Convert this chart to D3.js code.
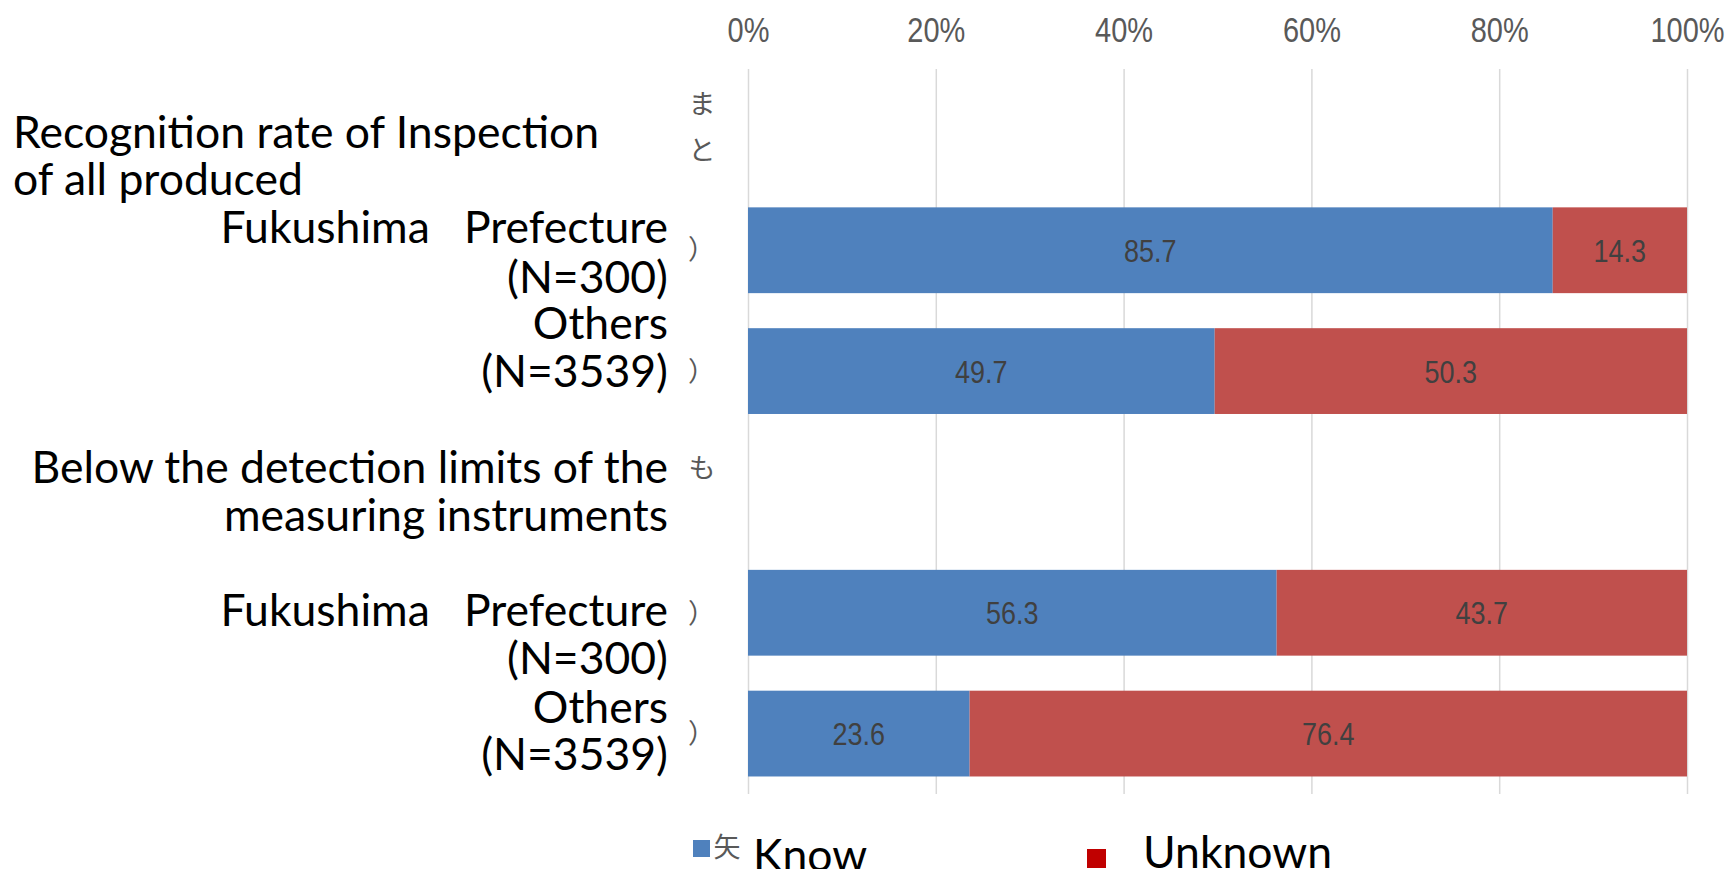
<!DOCTYPE html>
<html>
<head>
<meta charset="utf-8">
<script src="https://cdn.jsdelivr.net/npm/d3@7/dist/d3.min.js"></script>
<style>
  html, body { margin: 0; padding: 0; background: #ffffff; overflow: hidden; }
  svg { display: block; }
  .cat { font-family: Lato, "Open Sans", sans-serif; font-size: 44.5px; fill: #000000; white-space: pre; }
  .mark { font-family: "Noto Sans CJK JP", sans-serif; font-size: 27px; fill: #595959; }
  .tick text { font-family: "Liberation Sans Narrow", "Arial Narrow", sans-serif; font-size: 29px; fill: #595959; }
  .val { font-family: "Liberation Sans Narrow", "Arial Narrow", sans-serif; font-size: 27px; fill: #404040; }
  .leg { font-family: Lato, "Open Sans", sans-serif; font-size: 44.5px; fill: #000000; }
</style>
</head>
<body>
<svg id="chart" width="1725" height="869"></svg>
<script>
// Rows of the chart: two group headings, each followed by two respondent groups
const rowKeys = ["inspect", "inspect-fukushima", "inspect-others", "limits", "limits-fukushima", "limits-others"];
const rowLabels = [
  ["Recognition rate of Inspection", "of all produced"],
  ["Fukushima   Prefecture", "(N=300)"],
  ["Others", "(N=3539)"],
  ["Below the detection limits of the", "measuring instruments"],
  ["Fukushima   Prefecture", "(N=300)"],
  ["Others", "(N=3539)"]
];
// Japanese fragments of the original category labels peeking out next to the axis
const rowMarks = [["ま", "と"], ["）"], ["）"], ["も"], ["）"], ["）"]];

const seriesNames = ["Know", "Unknown"];
const knowValues = [null, 85.7, 49.7, null, 56.3, 23.6];
const unknownValues = [null, 14.3, 50.3, null, 43.7, 76.4];
const tickValues = [0, 20, 40, 60, 80, 100];

const legendMark = "矢";

// ---- layout ----
const W = 1725, H = 869;
const plot = { left: 748, right: 1687, top: 69, bottom: 794 };
const colors = { Know: "#4F81BD", Unknown: "#C0504D" };
const legendColors = { Know: "#4F81BD", Unknown: "#C00000" };
// vertical offsets (px) of each label line's centre from its row centre
const labelLineOffsets = [[2.6, 49.9], [-22.5, 27], [-47.7, 0.7], [-24.4, 24], [-2.2, 46.2], [-26.2, 21.1]];
const markOffsets = [[-25, 21], [-1.5], [-0.5], [-24.4], [0], [-1]];
const capHalf = 15.5;
const narrowStretch = 1.18; // condensed numerals are drawn a little taller than wide

const svg = d3.select("#chart");

const x = d3.scaleLinear().domain([0, 100]).range([plot.left, plot.right]);
const y = d3.scaleBand().domain(rowKeys).range([plot.top, plot.bottom])
  .paddingInner(0.29).paddingOuter(0.145);

// vertical gridlines
const grid = svg.append("g")
  .attr("transform", `translate(0,${plot.top})`)
  .call(d3.axisBottom(x).tickValues(tickValues).tickSize(plot.bottom - plot.top).tickFormat(""));
grid.select(".domain").remove();
grid.selectAll(".tick line").attr("stroke", "#D9D9D9").attr("stroke-width", 1.5);

// percentage axis along the top
const axis = svg.append("g")
  .attr("transform", "translate(0,42)")
  .call(d3.axisTop(x).tickValues(tickValues).tickSize(0).tickPadding(0).tickFormat(d => d + "%"));
axis.select(".domain").remove();
axis.selectAll(".tick text").attr("dy", "0").attr("y", 0)
  .attr("transform", `scale(1,${narrowStretch})`);

// stacked bars
const table = rowKeys.map((k, i) => ({ key: k, Know: knowValues[i], Unknown: unknownValues[i] }))
  .filter(r => r.Know !== null);
const stacked = d3.stack().keys(seriesNames)(table);

const layers = svg.append("g").selectAll("g")
  .data(stacked).join("g")
  .attr("fill", d => colors[d.key]);

layers.selectAll("rect")
  .data(d => d)
  .join("rect")
  .attr("x", d => x(d[0]))
  .attr("width", d => x(d[1]) - x(d[0]))
  .attr("y", d => y(d.data.key))
  .attr("height", y.bandwidth());

const fmt = d3.format(".1f");
layers.selectAll("text")
  .data(d => d)
  .join("text")
  .attr("class", "val")
  .attr("text-anchor", "middle")
  .attr("transform", d =>
    `translate(${(x(d[0]) + x(d[1])) / 2},${y(d.data.key) + y.bandwidth() / 2 + 11.5}) scale(1,${narrowStretch})`)
  .text(d => fmt(d[1] - d[0]));

// category labels
const labels = svg.append("g");
rowKeys.forEach((k, i) => {
  const cy = y(k) + y.bandwidth() / 2;
  const heading = knowValues[i] === null && i === 0;
  rowLabels[i].forEach((line, j) => {
    labels.append("text")
      .attr("class", "cat")
      .attr("x", heading ? 13 : 668)
      .attr("text-anchor", heading ? "start" : "end")
      .attr("y", cy + labelLineOffsets[i][j] + capHalf)
      .text(line);
  });
  rowMarks[i].forEach((m, j) => {
    labels.append("text")
      .attr("class", "mark")
      .attr("x", m === "）" ? 688 : 702)
      .attr("text-anchor", m === "）" ? "start" : "middle")
      .attr("y", cy + markOffsets[i][j] + 10)
      .text(m);
  });
});

// legend
const legend = svg.append("g");
legend.append("rect").attr("x", 693).attr("y", 840).attr("width", 17).attr("height", 17)
  .attr("fill", legendColors[seriesNames[0]]);
legend.append("text").attr("class", "mark").attr("x", 727).attr("y", 857)
  .attr("text-anchor", "middle").text(legendMark);
legend.append("text").attr("class", "leg").attr("x", 753).attr("y", 871).text(seriesNames[0]);
legend.append("rect").attr("x", 1087).attr("y", 849).attr("width", 19).attr("height", 19)
  .attr("fill", legendColors[seriesNames[1]]);
legend.append("text").attr("class", "leg").attr("x", 1143).attr("y", 868).text(seriesNames[1]);
</script>
</body>
</html>
